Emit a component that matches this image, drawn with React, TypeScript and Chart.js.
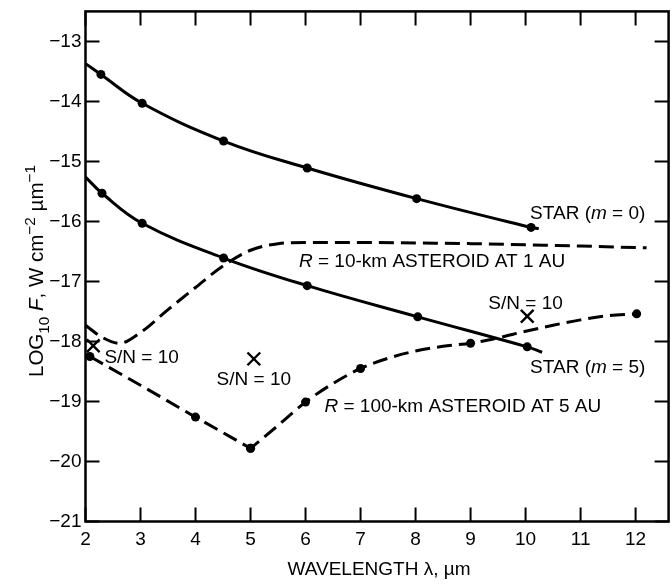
import React, { useEffect, useRef } from 'react';
import { Chart, registerables } from 'chart.js';

Chart.register(...registerables);

// ---------- data ----------
const X_MIN = 2;
const X_MAX = 12.6;
const Y_MIN = -21;
const Y_MAX = -12.5;

const xTicks = [2, 3, 4, 5, 6, 7, 8, 9, 10, 11, 12];
const yTicks = [-21, -20, -19, -18, -17, -16, -15, -14, -13];

// STAR (m = 0)
const star0X = [2, 2.28, 3.03, 4.51, 6.03, 8.02, 10.1, 10.24];
const star0Y = [-13.37, -13.55, -14.03, -14.66, -15.11, -15.62, -16.1, -16.12];
const star0Dot = [0, 1, 1, 1, 1, 1, 1, 0];

// STAR (m = 5)
const star5X = [2, 2.3, 3.03, 4.51, 6.03, 8.04, 10.03, 10.3];
const star5Y = [-15.26, -15.53, -16.03, -16.61, -17.07, -17.59, -18.09, -18.18];
const star5Dot = [0, 1, 1, 1, 1, 1, 1, 0];

// R = 10-km asteroid at 1 AU (dashed, no dots)
const ast10X = [2, 2.3, 2.62, 3, 3.5, 4, 4.5, 5, 5.5, 6, 7, 8, 9, 10, 11, 12.2];
const ast10Y = [-17.73, -17.93, -18.03, -17.85, -17.47, -17.1, -16.74, -16.48, -16.37, -16.35, -16.35, -16.36, -16.37, -16.39, -16.41, -16.44];

// R = 100-km asteroid at 5 AU (dashed, dots)
const ast100X = [2.08, 3, 4, 5, 5.5, 6, 6.5, 7, 7.5, 8, 8.5, 9, 9.5, 10, 10.5, 11, 11.5, 12.02];
const ast100Y = [-18.25, -18.73, -19.26, -19.78, -19.4, -19.01, -18.7, -18.45, -18.28, -18.16, -18.08, -18.03, -17.94, -17.83, -17.73, -17.64, -17.57, -17.54];
const ast100Dot = [1, 0, 1, 1, 0, 1, 0, 1, 0, 0, 0, 1, 0, 0, 0, 0, 0, 1];

// S/N = 10 crosses
const snX = [2.14, 5.06, 10.03];
const snY = [-18.07, -18.29, -17.58];

// annotation texts (segments) and their anchor positions in data units
type Seg = { t: string; it?: boolean; sup?: boolean; sub?: boolean };
const annTexts: Seg[][] = [
  [{ t: 'STAR (' }, { t: 'm', it: true }, { t: ' = 0)' }],
  [{ t: 'R', it: true }, { t: ' = 10-km ASTEROID AT 1 AU' }],
  [{ t: 'S/N = 10' }],
  [{ t: 'STAR (' }, { t: 'm', it: true }, { t: ' = 5)' }],
  [{ t: 'S/N = 10' }],
  [{ t: 'S/N = 10' }],
  [{ t: 'R', it: true }, { t: ' = 100-km ASTEROID AT 5 AU' }],
];
const annX = [11.13, 8.3, 10.0, 11.13, 3.02, 5.06, 8.86];
const annY = [-15.85, -16.65, -17.35, -18.42, -18.25, -18.62, -19.06];

const xTitle: Seg[] = [{ t: 'WAVELENGTH λ, µm' }];
const yTitle: Seg[] = [
  { t: 'LOG' }, { t: '10', sub: true }, { t: ' ' }, { t: 'F', it: true },
  { t: ', W cm' }, { t: '\u22122', sup: true }, { t: ' µm' }, { t: '\u22121', sup: true },
];

// ---------- helpers ----------
const FONT = '"Liberation Sans", Arial, Helvetica, sans-serif';

function drawRich(ctx: CanvasRenderingContext2D, segs: Seg[], x: number, y: number, size: number, smallScale = 0.7) {
  const parts = segs.map((s) => {
    const sz = s.sup || s.sub ? size * smallScale : size;
    const f = `${s.it ? 'italic ' : ''}${sz}px ${FONT}`;
    ctx.font = f;
    return { s, f, w: ctx.measureText(s.t).width };
  });
  const total = parts.reduce((a, p) => a + p.w, 0);
  let cx = x - total / 2;
  const base = y + (size * 0.716) / 2;
  ctx.textAlign = 'left';
  ctx.textBaseline = 'alphabetic';
  ctx.fillStyle = '#000';
  for (const p of parts) {
    ctx.font = p.f;
    const dy = p.s.sup ? -size * 0.42 : p.s.sub ? size * 0.28 : 0;
    ctx.fillText(p.s.t, cx, base + dy);
    cx += p.w;
  }
}

const pts = (xs: number[], ys: number[]) => xs.map((x, i) => ({ x, y: ys[i] }));

const framePlugin = {
  id: 'frame',
  afterDraw(chart: any) {
    const { ctx, chartArea: a, scales } = chart;
    const xs = scales.x;
    const ys = scales.y;
    ctx.save();
    ctx.strokeStyle = '#000';
    ctx.lineWidth = 2.5;
    ctx.strokeRect(a.left, a.top, a.right - a.left, a.bottom - a.top);
    ctx.lineWidth = 2;
    const TL = 14;
    ctx.beginPath();
    for (const v of xTicks) {
      const px = xs.getPixelForValue(v);
      ctx.moveTo(px, a.bottom);
      ctx.lineTo(px, a.bottom - TL);
      ctx.moveTo(px, a.top);
      ctx.lineTo(px, a.top + TL);
    }
    for (const v of yTicks) {
      const py = ys.getPixelForValue(v);
      ctx.moveTo(a.left, py);
      ctx.lineTo(a.left + TL, py);
      ctx.moveTo(a.right, py);
      ctx.lineTo(a.right - TL, py);
    }
    ctx.stroke();

    // annotations
    annTexts.forEach((segs, i) => {
      drawRich(ctx, segs, xs.getPixelForValue(annX[i]), ys.getPixelForValue(annY[i]), 19);
    });

    // axis titles
    drawRich(ctx, xTitle, 379, 568, 19);
    ctx.translate(36, 271);
    ctx.rotate(-Math.PI / 2);
    drawRich(ctx, yTitle, 0, 0, 20.5, 0.75);
    ctx.restore();
  },
};

export default function App() {
  const ref = useRef<HTMLCanvasElement | null>(null);

  useEffect(() => {
    if (!ref.current) return;
    const dotR = (dots: number[]) => (c: any) => (dots[c.dataIndex] ? 4.5 : 0);
    const dotROffset = (dots: number[], off: number) => (c: any) => (dots[c.dataIndex + off] ? 4.5 : 0);
    // split the 100-km curve at its minimum so the V stays sharp
    let iMin = 0;
    ast100Y.forEach((v, i) => {
      if (v < ast100Y[iMin]) iMin = i;
    });
    const ast100All = pts(ast100X, ast100Y);
    const ast100Left = ast100All.slice(0, iMin + 1);
    const ast100Right = ast100All.slice(iMin);

    const dashed = {
      showLine: true,
      borderColor: '#000',
      borderWidth: 3,
      borderDash: [15, 7],
      cubicInterpolationMode: 'monotone',
      pointBackgroundColor: '#000',
      pointBorderWidth: 0,
    };

    const chart = new Chart(ref.current, {
      type: 'scatter',
      data: {
        datasets: [
          {
            data: pts(star0X, star0Y),
            showLine: true,
            borderColor: '#000',
            borderWidth: 3,
            tension: 0.4,
            pointRadius: dotR(star0Dot),
            pointBackgroundColor: '#000',
            pointBorderWidth: 0,
          },
          {
            data: pts(star5X, star5Y),
            showLine: true,
            borderColor: '#000',
            borderWidth: 3,
            tension: 0.4,
            pointRadius: dotR(star5Dot),
            pointBackgroundColor: '#000',
            pointBorderWidth: 0,
          },
          { ...dashed, data: pts(ast10X, ast10Y), pointRadius: 0 },
          { ...dashed, data: ast100Left, pointRadius: dotR(ast100Dot) },
          { ...dashed, data: ast100Right, pointRadius: dotROffset(ast100Dot, iMin), borderDashOffset: 4 },
          {
            data: pts(snX, snY),
            showLine: false,
            pointStyle: 'crossRot',
            pointRadius: 9,
            borderColor: '#000',
            pointBorderColor: '#000',
            pointBorderWidth: 2.4,
          },
        ] as any,
      },
      options: {
        animation: false,
        responsive: false,
        maintainAspectRatio: false,
        events: [],
        layout: { padding: { top: 10, right: 1, left: 0, bottom: 0 } },
        plugins: { legend: { display: false }, tooltip: { enabled: false } },
        scales: {
          x: {
            type: 'linear',
            min: X_MIN,
            max: X_MAX,
            afterBuildTicks: (s: any) => {
              s.ticks = xTicks.map((v) => ({ value: v }));
            },
            afterFit: (s: any) => {
              s.height = 62.5;
              s.paddingLeft = 0;
              s.paddingRight = 0;
            },
            grid: { display: false, drawTicks: false },
            border: { display: false },
            ticks: {
              color: '#000',
              font: { family: FONT, size: 19 },
              padding: 7,
              maxRotation: 0,
              autoSkip: false,
              callback: (v: any) => String(v),
            },
          },
          y: {
            type: 'linear',
            min: Y_MIN,
            max: Y_MAX,
            afterBuildTicks: (s: any) => {
              s.ticks = yTicks.map((v) => ({ value: v }));
            },
            afterFit: (s: any) => {
              s.width = 85.5;
              s.paddingTop = 0;
              s.paddingBottom = 0;
            },
            grid: { display: false, drawTicks: false },
            border: { display: false },
            ticks: {
              color: '#000',
              font: { family: FONT, size: 19 },
              padding: 4,
              autoSkip: false,
              callback: (v: any) => '\u2212' + Math.abs(v),
            },
          },
        },
      } as any,
      plugins: [framePlugin],
    });
    return () => chart.destroy();
  }, []);

  return (
    <div style={{ position: 'fixed', left: 0, top: 0, width: 672, height: 584, overflow: 'hidden', background: '#fff' }}>
      <canvas ref={ref} width={680} height={584} style={{ display: 'block', width: 680, height: 584 }} />
    </div>
  );
}
